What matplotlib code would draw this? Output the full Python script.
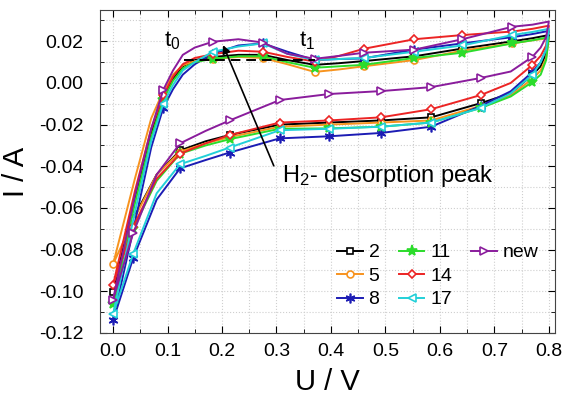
import matplotlib
matplotlib.use("Agg")
import matplotlib.pyplot as plt
from matplotlib.lines import Line2D

plt.rcParams['font.family'] = ['Liberation Sans', 'DejaVu Sans']
plt.rcParams['mathtext.fontset'] = 'custom'
plt.rcParams['mathtext.rm'] = 'Liberation Sans'

# potential grid: anodic sweep (0 -> 0.8 V) then cathodic sweep (0.8 -> 0 V)
U_up = [0.0, 0.04, 0.07, 0.092, 0.11, 0.128, 0.15, 0.183, 0.23, 0.275,
        0.32, 0.37, 0.415, 0.46, 0.553, 0.641, 0.733, 0.77, 0.80]
U_down = [0.795, 0.785, 0.77, 0.73, 0.675, 0.584, 0.492, 0.397, 0.306,
          0.214, 0.17, 0.123, 0.08, 0.037, 0.0]

# currents in A, one pair of lists per cycle
i2_up = [-0.1005, -0.055, -0.024, -0.007, 0.002, 0.008, 0.011, 0.0125, 0.0135, 0.0135,
         0.011, 0.0087, 0.0095, 0.0105, 0.0128, 0.0165, 0.020, 0.0215, 0.023]
i2_down = [0.014, 0.008, 0.0039, -0.005, -0.0097, -0.0165, -0.018, -0.019, -0.020,
           -0.025, -0.028, -0.0324, -0.044, -0.065, -0.1005]

i5_up = [-0.087, -0.046, -0.017, -0.004, 0.004, 0.0085, 0.0105, 0.0115, 0.0125, 0.012,
         0.009, 0.0053, 0.0065, 0.008, 0.011, 0.0155, 0.019, 0.0205, 0.0215]
i5_down = [0.012, 0.006, 0.002, -0.006, -0.011, -0.018, -0.019, -0.020, -0.021,
           -0.026, -0.029, -0.033, -0.044, -0.066, -0.087]

i8_up = [-0.114, -0.067, -0.031, -0.012, -0.003, 0.004, 0.009, 0.014, 0.018, 0.019,
         0.015, 0.011, 0.0115, 0.0118, 0.016, 0.019, 0.022, 0.0235, 0.025]
i8_down = [0.016, 0.010, 0.0053, -0.004, -0.011, -0.021, -0.024, -0.0256, -0.0266,
           -0.0334, -0.037, -0.041, -0.056, -0.084, -0.114]

i11_up = [-0.106, -0.058, -0.026, -0.008, 0.001, 0.007, 0.010, 0.0116, 0.0128, 0.0128,
          0.010, 0.0073, 0.008, 0.0087, 0.012, 0.0145, 0.019, 0.0205, 0.022]
i11_down = [0.011, 0.004, 0.0005, -0.0065, -0.012, -0.019, -0.021, -0.0218, -0.022,
            -0.027, -0.030, -0.034, -0.047, -0.070, -0.106]

i14_up = [-0.097, -0.052, -0.022, -0.006, 0.003, 0.009, 0.012, 0.0138, 0.0155, 0.015,
          0.0125, 0.0103, 0.013, 0.0164, 0.021, 0.023, 0.0247, 0.026, 0.0275]
i14_down = [0.018, 0.013, 0.0087, 0.0, -0.0058, -0.0126, -0.0165, -0.018, -0.019,
            -0.025, -0.029, -0.034, -0.046, -0.069, -0.097]

i17_up = [-0.111, -0.062, -0.028, -0.010, -0.001, 0.006, 0.010, 0.015, 0.0175, 0.019,
          0.014, 0.011, 0.0115, 0.012, 0.015, 0.018, 0.023, 0.0245, 0.026]
i17_down = [0.016, 0.010, 0.004, -0.005, -0.012, -0.019, -0.021, -0.022, -0.0227,
            -0.031, -0.035, -0.039, -0.053, -0.082, -0.111]

inew_up = [-0.104, -0.054, -0.022, -0.0034, 0.006, 0.0135, 0.017, 0.0198, 0.021, 0.0194,
           0.014, 0.0116, 0.013, 0.0145, 0.016, 0.021, 0.027, 0.028, 0.0295]
inew_down = [0.022, 0.017, 0.0126, 0.0055, 0.0024, -0.002, -0.0039, -0.0053, -0.0082,
             -0.018, -0.023, -0.029, -0.044, -0.072, -0.104]

labels = ['2', '5', '8', '11', '14', '17', 'new']
currents = [(i2_up, i2_down), (i5_up, i5_down), (i8_up, i8_down), (i11_up, i11_down),
            (i14_up, i14_down), (i17_up, i17_down), (inew_up, inew_down)]

colors = ['#000000', '#f7931e', '#1c1cb4', '#2bdc2b', '#ec2424', '#22d0d8', '#8a1c9c']
markers = ['s', 'o', (6, 2, 0), '*', 'D', '<', '>']
fills = ['white', 'white', None, None, 'white', 'white', 'white']
sizes = [5, 5, 7, 8, 4.5, 5.5, 5.5]

mark_up = [3, 7, 9, 11, 13, 14, 15, 16]
mark_down = [2, 4, 5, 6, 7, 8, 9, 11, 13, 14]

fig, ax = plt.subplots(figsize=(5.65, 4.03), dpi=100)
fig.subplots_adjust(left=0.177, right=0.982, top=0.975, bottom=0.174)

U = U_up + U_down
every = mark_up + [len(U_up) + k for k in mark_down]
for lab, (iu, idn), c, m, f, s in zip(labels, currents, colors, markers, fills, sizes):
    kw = dict(markerfacecolor=f) if f else {}
    ax.plot(U, iu + idn, color=c, lw=1.4, marker=m, markersize=s, markevery=every,
            markeredgewidth=1.2, label=lab, **kw)

# baseline and annotations
ax.plot([0.13, 0.37], [0.0112, 0.0112], color='k', ls='--', lw=1.4, dashes=(5, 3))
ax.text(0.108, 0.0205, 't$\\mathregular{_0}$', fontsize=16, ha='center', va='center')
ax.text(0.357, 0.0205, 't$\\mathregular{_1}$', fontsize=16, ha='center', va='center')
ax.annotate('', xy=(0.2, 0.0194), xytext=(0.297, -0.041),
            arrowprops=dict(arrowstyle='-|>', color='k', lw=1.2, mutation_scale=12))
ax.text(0.31, -0.0445, 'H$\\mathregular{_2}$- desorption peak', fontsize=17,
        ha='left', va='center')

ax.set_xlim(-0.024, 0.811)
ax.set_ylim(-0.12, 0.035)
ax.set_xticks([0.0, 0.1, 0.2, 0.3, 0.4, 0.5, 0.6, 0.7, 0.8])
ax.set_yticks([-0.12, -0.10, -0.08, -0.06, -0.04, -0.02, 0.00, 0.02])
ax.set_xticks([0.05, 0.15, 0.25, 0.35, 0.45, 0.55, 0.65, 0.75], minor=True)
ax.set_yticks([-0.11, -0.09, -0.07, -0.05, -0.03, -0.01, 0.01, 0.03], minor=True)
ax.yaxis.set_major_formatter(plt.FormatStrFormatter('%.2f'))
ax.xaxis.set_major_formatter(plt.FormatStrFormatter('%.1f'))
ax.tick_params(which='both', direction='in', top=True, right=True, labelsize=14)
ax.tick_params(which='major', length=5)
ax.tick_params(which='minor', length=3)
ax.tick_params(axis='y', pad=12)
ax.tick_params(axis='x', pad=7)
ax.grid(which='both', color='#cfcfcf', ls=':', lw=0.8)
for sp in ax.spines.values():
    sp.set_color('#444444')

ax.set_xlabel('U / V', fontsize=21, labelpad=6)
ax.set_ylabel('I / A', fontsize=21, labelpad=6)

# pad with two empty entries so the columns hold 3, 3 and 1 items
handles, labs = ax.get_legend_handles_labels()
blank = Line2D([], [], linestyle='none')
handles += [blank, blank]
labs += ['', '']
ax.legend(handles, labs, ncol=3, frameon=False, fontsize=14, loc='upper left',
          bbox_to_anchor=(0.505, 0.30), handlelength=1.3, handletextpad=0.3,
          columnspacing=1.0, labelspacing=0.3, borderaxespad=0)

plt.savefig('out.png', dpi=100)
